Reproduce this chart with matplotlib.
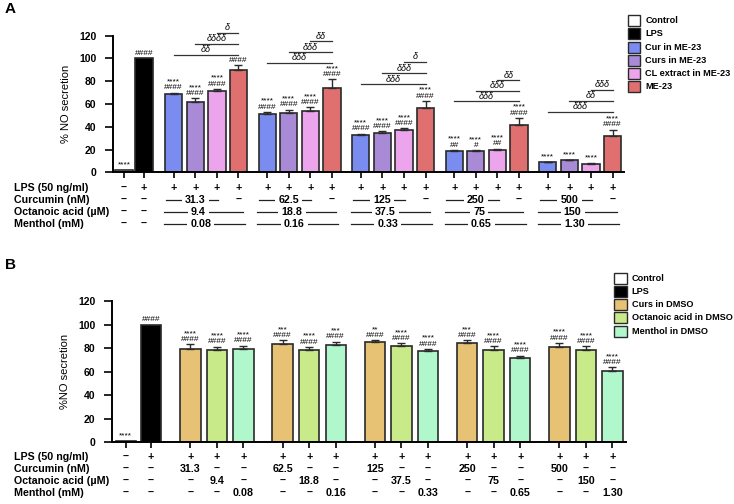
import matplotlib
matplotlib.use("Agg")
import matplotlib.pyplot as plt
from matplotlib.patches import Rectangle
from matplotlib.transforms import blended_transform_factory

plt.rcParams['font.family'] = ['Liberation Sans', 'DejaVu Sans']

W, H = 734, 504

# ---------------- data: panel A (ME-23 formulations) ----------------
a_series = ['Cur in ME-23', 'Curs in ME-23', 'CL extract in ME-23', 'ME-23']
a_colors = ['#7b8cf0', '#a98ad6', '#eca4ec', '#e07070']
a_ctrl = 2.4
a_lps = 100
a_vals = [
    [68.5, 51.5, 32.8, 19.0, 8.8],
    [61.5, 51.8, 34.2, 18.7, 10.5],
    [71.0, 54.0, 37.2, 19.9, 7.6],
    [89.6, 74.3, 56.5, 41.3, 31.6],
]
a_errs = [
    [1.5, 1.5, 1.2, 0.6, 0.6],
    [3.5, 3.2, 1.8, 0.6, 0.7],
    [2.0, 3.0, 1.3, 0.9, 0.6],
    [4.4, 7.4, 6.1, 6.4, 5.8],
]
a_stars = [
    ['****', '****', '****', '****', '****'],
    ['****', '****', '****', '****', '****'],
    ['****', '****', '****', '****', '****'],
    ['', '****', '****', '****', '****'],
]
a_hash = [
    ['####', '####', '####', '##', ''],
    ['####', '####', '####', '#', ''],
    ['####', '####', '####', '##', ''],
    ['####', '####', '####', '####', '####'],
]
# delta comparisons vs ME-23: [bar1-bar4, bar2-bar4, bar3-bar4]
a_delta = [
    ['δδ', 'δδδδ', 'δ'],
    ['δδδ', 'δδδ', 'δδ'],
    ['δδδ', 'δδδ', 'δ'],
    ['δδδ', 'δδδ', 'δδ'],
    ['δδδ', 'δδ', 'δδδ'],
]
a_delta_y = [
    [103, 112.7, 122.4],
    [96, 105.4, 115],
    [77.3, 87, 96.9],
    [62.4, 71.7, 81],
    [53, 62.7, 72.3],
]

# ---------------- data: panel B (DMSO) ----------------
b_series = ['Curs in DMSO', 'Octanoic acid in DMSO', 'Menthol in DMSO']
b_colors = ['#e8c274', '#c8ea88', '#b0f7cc']
b_ctrl = 1.5
b_lps = 100
b_vals = [
    [79.2, 83.7, 85.4, 84.3, 80.9],
    [78.1, 78.6, 82.0, 78.1, 78.4],
    [79.5, 82.9, 77.8, 71.3, 60.6],
]
b_errs = [
    [4.0, 2.9, 1.2, 2.3, 3.4],
    [3.1, 2.1, 2.0, 3.4, 3.1],
    [2.5, 2.5, 1.2, 2.3, 3.1],
]
b_stars = [
    ['****', '***', '**', '***', '****'],
    ['****', '****', '****', '****', '****'],
    ['****', '***', '****', '****', '****'],
]
b_hash = [
    ['####'] * 5,
    ['####'] * 5,
    ['####'] * 5,
]

# concentrations
curcumin_nM = ['31.3', '62.5', '125', '250', '500']
octanoic_uM = ['9.4', '18.8', '37.5', '75', '150']
menthol_mM = ['0.08', '0.16', '0.33', '0.65', '1.30']
row_names = ['LPS (50 ng/ml)', 'Curcumin (nM)', 'Octanoic acid (µM)', 'Menthol (mM)']

edge = '#2a2a2a'
fig = plt.figure(figsize=(W / 100, H / 100), dpi=100)


def fy(py):
    return 1 - py / H


def style_axes(ax, xlim):
    ax.set_xlim(*xlim)
    ax.set_ylim(0, 120)
    ax.set_yticks(range(0, 121, 20))
    for s in ['top', 'right']:
        ax.spines[s].set_visible(False)
    for s in ['left', 'bottom']:
        ax.spines[s].set_linewidth(1.4)
    ax.tick_params(axis='y', direction='out', length=6, width=1.2, pad=6, labelsize=7.5)
    ax.tick_params(axis='x', direction='out', length=4, width=1.2, labelbottom=False)
    for lab in ax.get_yticklabels():
        lab.set_fontweight('bold')


def bar(ax, x, v, e, color, w, note):
    ax.bar(x, v, width=w, color=color, edgecolor=edge, linewidth=1.2, zorder=2)
    if e > 0:
        ax.errorbar(x, v, yerr=[[0], [e]], fmt='none', ecolor=edge, elinewidth=1,
                    capsize=3, capthick=1, zorder=3)
    if note:
        ax.annotate(note, (x, v + e), xytext=(0, 1), textcoords='offset points',
                    ha='center', va='bottom', fontsize=6, linespacing=0.8,
                    annotation_clip=False)


def legend(names, colors, x0, y0, step):
    for i, (n, c) in enumerate(zip(names, colors)):
        yc = y0 + i * step
        fig.add_artist(Rectangle((x0 / W, fy(yc + 5.5)), 12.5 / W, 11 / H,
                                 transform=fig.transFigure, facecolor=c,
                                 edgecolor=edge, linewidth=1))
        fig.text((x0 + 17.5) / W, fy(yc), n, fontsize=6.6, fontweight='bold',
                 va='center', ha='left')


def note_of(s, h):
    return '\n'.join([t for t in (s, h) if t])


tkw = dict(ha='center', va='center', fontsize=7.7, fontweight='bold')

# ======================= Panel A =======================
axA = fig.add_axes([113 / W, fy(172.3), 511 / W, 136.6 / H])
style_axes(axA, (-0.51, 23.15))
a_start = [2.3 + 4.33 * k for k in range(5)]
wA = 0.8
bar(axA, 0, a_ctrl, 0, 'white', wA, '****')
bar(axA, 0.93, a_lps, 0, 'black', wA, '####')
ticksA = [0, 0.93]
for k, x0 in enumerate(a_start):
    for j in range(4):
        x = x0 + j
        ticksA.append(x)
        bar(axA, x, a_vals[j][k], a_errs[j][k], a_colors[j], wA,
            note_of(a_stars[j][k], a_hash[j][k]))
    xe = x0 + 3
    for j in range(3):
        y = a_delta_y[k][j]
        axA.plot([x0 + j, xe], [y, y], color='#333333', lw=0.9, clip_on=False)
        axA.text((x0 + j + xe) / 2, y + 0.5, a_delta[k][j], ha='center', va='bottom',
                 fontsize=6.5, style='italic', clip_on=False)
axA.set_xticks(ticksA)
axA.set_ylabel('% NO secretion', fontsize=8, labelpad=6)

trA = blended_transform_factory(axA.transData, fig.transFigure)
rowsA = [188, 200, 212, 224]
for name, py in zip(row_names, rowsA):
    fig.text(14 / W, fy(py), name, ha='left', va='center', fontsize=7.7, fontweight='bold')
for i, s in enumerate(['–', '–', '–', '–']):
    axA.text(0, fy(rowsA[i]), s, transform=trA, **tkw)
for i, s in enumerate(['+', '–', '–', '–']):
    axA.text(0.93, fy(rowsA[i]), s, transform=trA, **tkw)
spans = [(-0.36, 2.05, 1.0), (-0.45, 3.2, 1.15), (-0.45, 3.3, 1.25)]
for k, x0 in enumerate(a_start):
    for j in range(4):
        axA.text(x0 + j, fy(rowsA[0]), '+', transform=trA, **tkw)
    axA.text(x0 + 3, fy(rowsA[1]), '–', transform=trA, **tkw)
    for r, lab in enumerate([curcumin_nM[k], octanoic_uM[k], menthol_mM[k]]):
        a, b, c = spans[r]
        yy = fy(rowsA[r + 1])
        axA.plot([x0 + a, x0 + b], [yy, yy], transform=trA, color='#222222', lw=0.9,
                 clip_on=False)
        axA.text(x0 + c, yy, lab, transform=trA, zorder=5,
                 bbox=dict(facecolor='white', edgecolor='none', boxstyle='square,pad=0.3'),
                 **tkw)

legend(['Control', 'LPS'] + a_series, ['white', 'black'] + a_colors, 627.7, 20.7, 13.2)
fig.text(5 / W, fy(9), 'A', fontsize=11, fontweight='bold', va='center', ha='left')

# ======================= Panel B =======================
axB = fig.add_axes([112 / W, fy(442.3), 513.7 / W, 141.3 / H])
style_axes(axB, (-0.52, 18.86))
b_start = [2.44 + 3.48 * k for k in range(5)]
wB = 0.77
bar(axB, 0, b_ctrl, 0, 'white', wB, '****')
bar(axB, 0.95, b_lps, 0, 'black', wB, '####')
ticksB = [0, 0.95]
for k, x0 in enumerate(b_start):
    for j in range(3):
        x = x0 + j
        ticksB.append(x)
        bar(axB, x, b_vals[j][k], b_errs[j][k], b_colors[j], wB,
            note_of(b_stars[j][k], b_hash[j][k]))
axB.set_xticks(ticksB)
axB.set_ylabel('%NO secretion', fontsize=8, labelpad=6)

trB = blended_transform_factory(axB.transData, fig.transFigure)
rowsB = [457, 469, 481, 493]
for name, py in zip(row_names, rowsB):
    fig.text(14 / W, fy(py), name, ha='left', va='center', fontsize=7.7, fontweight='bold')
for i, s in enumerate(['–', '–', '–', '–']):
    axB.text(0, fy(rowsB[i]), s, transform=trB, **tkw)
for i, s in enumerate(['+', '–', '–', '–']):
    axB.text(0.95, fy(rowsB[i]), s, transform=trB, **tkw)
for k, x0 in enumerate(b_start):
    conc = [curcumin_nM[k], octanoic_uM[k], menthol_mM[k]]
    for j in range(3):
        axB.text(x0 + j, fy(rowsB[0]), '+', transform=trB, **tkw)
        for r in range(3):
            s = conc[r] if r == j else '–'
            axB.text(x0 + j, fy(rowsB[r + 1]), s, transform=trB, **tkw)

legend(['Control', 'LPS'] + b_series, ['white', 'black'] + b_colors, 614.3, 278.3, 13.2)
fig.text(5 / W, fy(265), 'B', fontsize=11, fontweight='bold', va='center', ha='left')

fig.savefig('out.png', dpi=100)
